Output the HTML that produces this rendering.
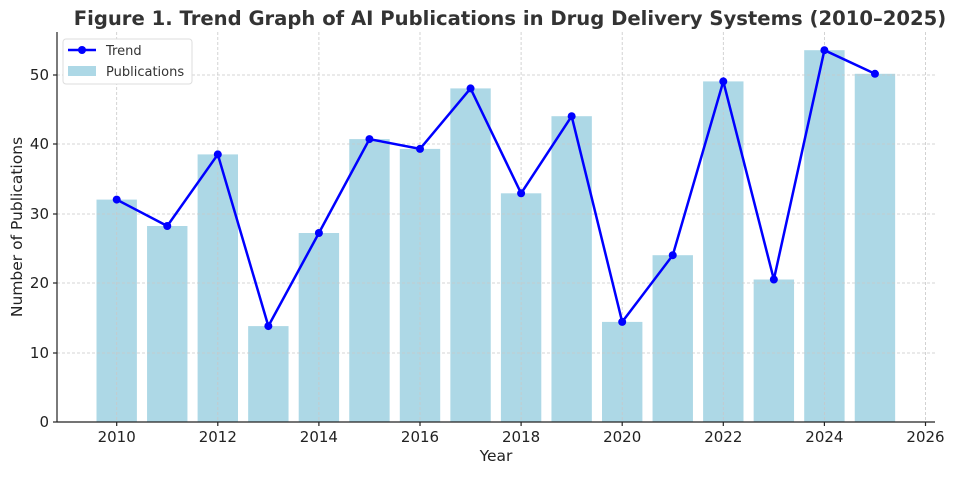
<!DOCTYPE html>
<html><head><meta charset="utf-8"><style>
body{margin:0;background:#fff;}
text{font-family:"DejaVu Sans","Liberation Sans",sans-serif;}
</style></head><body>
<svg width="956" height="474" viewBox="0 0 956 474" xmlns="http://www.w3.org/2000/svg">
<rect width="956" height="474" fill="#fff"/>
<text x="510" y="25" text-anchor="middle" font-size="19.6" font-weight="bold" fill="#333">Figure 1. Trend Graph of AI Publications in Drug Delivery Systems (2010–2025)</text>
<g fill="#add8e6">
<rect x="96.5" y="199.6" width="40.4" height="222.4"/>
<rect x="147.05" y="226" width="40.4" height="196"/>
<rect x="197.6" y="154.4" width="40.4" height="267.6"/>
<rect x="248.15" y="326.1" width="40.4" height="95.9"/>
<rect x="298.7" y="233" width="40.4" height="189"/>
<rect x="349.25" y="139.1" width="40.4" height="282.9"/>
<rect x="399.8" y="148.9" width="40.4" height="273.1"/>
<rect x="450.35" y="88.4" width="40.4" height="333.6"/>
<rect x="500.9" y="193.3" width="40.4" height="228.7"/>
<rect x="551.45" y="116.2" width="40.4" height="305.8"/>
<rect x="602" y="321.9" width="40.4" height="100.1"/>
<rect x="652.55" y="255.2" width="40.4" height="166.8"/>
<rect x="703.1" y="81.4" width="40.4" height="340.6"/>
<rect x="753.65" y="279.5" width="40.4" height="142.5"/>
<rect x="804.2" y="50.2" width="40.4" height="371.8"/>
<rect x="854.75" y="73.8" width="40.4" height="348.2"/>
</g>
<g stroke="#c8c8c8" stroke-width="0.8" stroke-dasharray="3,2">
<line x1="116.7" y1="32" x2="116.7" y2="422"/><line x1="217.8" y1="32" x2="217.8" y2="422"/><line x1="318.9" y1="32" x2="318.9" y2="422"/><line x1="420" y1="32" x2="420" y2="422"/><line x1="521.1" y1="32" x2="521.1" y2="422"/><line x1="622.2" y1="32" x2="622.2" y2="422"/><line x1="723.3" y1="32" x2="723.3" y2="422"/><line x1="824.4" y1="32" x2="824.4" y2="422"/><line x1="925.5" y1="32" x2="925.5" y2="422"/>
<line x1="57" y1="353" x2="935" y2="353"/><line x1="57" y1="283" x2="935" y2="283"/><line x1="57" y1="214" x2="935" y2="214"/><line x1="57" y1="144" x2="935" y2="144"/><line x1="57" y1="75" x2="935" y2="75"/>
</g>
<polyline fill="none" stroke="#0000ff" stroke-width="2.5" points="116.7,199.6 167.25,226 217.8,154.4 268.35,326.1 318.9,233 369.45,139.1 420,148.9 470.55,88.4 521.1,193.3 571.65,116.2 622.2,321.9 672.75,255.2 723.3,81.4 773.85,279.5 824.4,50.2 874.95,73.8"/>
<g fill="#0000ff">
<circle cx="116.7" cy="199.6" r="4"/><circle cx="167.25" cy="226" r="4"/><circle cx="217.8" cy="154.4" r="4"/><circle cx="268.35" cy="326.1" r="4"/><circle cx="318.9" cy="233" r="4"/><circle cx="369.45" cy="139.1" r="4"/><circle cx="420" cy="148.9" r="4"/><circle cx="470.55" cy="88.4" r="4"/><circle cx="521.1" cy="193.3" r="4"/><circle cx="571.65" cy="116.2" r="4"/><circle cx="622.2" cy="321.9" r="4"/><circle cx="672.75" cy="255.2" r="4"/><circle cx="723.3" cy="81.4" r="4"/><circle cx="773.85" cy="279.5" r="4"/><circle cx="824.4" cy="50.2" r="4"/><circle cx="874.95" cy="73.8" r="4"/>
</g>
<g stroke="#222" stroke-width="1.2">
<line x1="57" y1="32" x2="57" y2="422"/><line x1="57" y1="422" x2="935" y2="422"/>
<line x1="53" y1="422" x2="57" y2="422"/><line x1="53" y1="353" x2="57" y2="353"/><line x1="53" y1="283" x2="57" y2="283"/><line x1="53" y1="214" x2="57" y2="214"/><line x1="53" y1="144" x2="57" y2="144"/><line x1="53" y1="75" x2="57" y2="75"/>
<line x1="116.7" y1="422" x2="116.7" y2="426"/><line x1="217.8" y1="422" x2="217.8" y2="426"/><line x1="318.9" y1="422" x2="318.9" y2="426"/><line x1="420" y1="422" x2="420" y2="426"/><line x1="521.1" y1="422" x2="521.1" y2="426"/><line x1="622.2" y1="422" x2="622.2" y2="426"/><line x1="723.3" y1="422" x2="723.3" y2="426"/><line x1="824.4" y1="422" x2="824.4" y2="426"/><line x1="925.5" y1="422" x2="925.5" y2="426"/>
</g>
<g font-size="15" fill="#222" text-anchor="end">
<text x="49" y="427">0</text><text x="49" y="358">10</text><text x="49" y="288">20</text><text x="49" y="219">30</text><text x="49" y="149">40</text><text x="49" y="80">50</text>
</g>
<g font-size="15" fill="#222" text-anchor="middle">
<text x="116.7" y="442">2010</text><text x="217.8" y="442">2012</text><text x="318.9" y="442">2014</text><text x="420" y="442">2016</text><text x="521.1" y="442">2018</text><text x="622.2" y="442">2020</text><text x="723.3" y="442">2022</text><text x="824.4" y="442">2024</text><text x="925.5" y="442">2026</text>
<text x="496" y="461" font-size="15.5">Year</text>
</g>
<text transform="translate(22,227) rotate(-90)" font-size="15.5" fill="#222" text-anchor="middle">Number of Publications</text>
<rect x="63" y="39" width="129" height="45" fill="#fff" stroke="#ddd" rx="3"/>
<line x1="68" y1="50" x2="96" y2="50" stroke="#0000ff" stroke-width="2.5"/>
<circle cx="82" cy="50" r="4" fill="#0000ff"/>
<text x="106" y="55" font-size="13" fill="#333">Trend</text>
<rect x="68" y="66" width="28" height="10" fill="#add8e6"/>
<text x="106" y="76" font-size="13" fill="#333">Publications</text>
</svg>
</body></html>
